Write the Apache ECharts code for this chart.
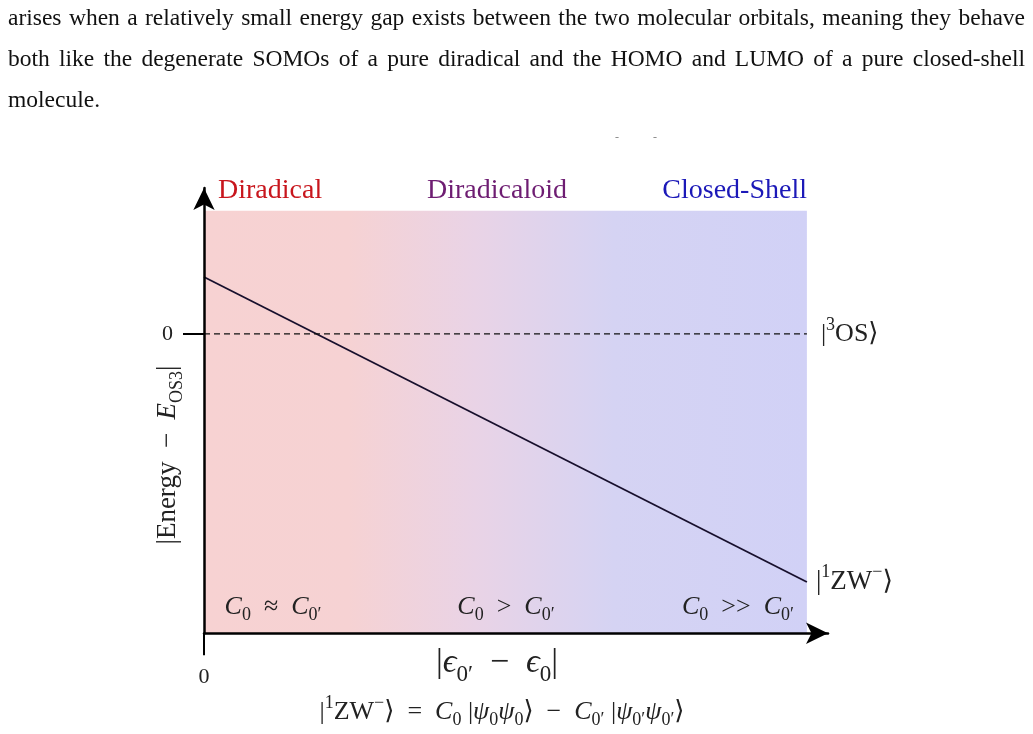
<!DOCTYPE html>
<html>
<head>
<meta charset="utf-8">
<script src="https://cdn.jsdelivr.net/npm/echarts@6/dist/echarts.min.js"></script>
<style>
  html, body { margin: 0; padding: 0; background: #fff; }
  #wrap { position: relative; width: 1033px; height: 734px; overflow: hidden; }
  #chart { position: absolute; left: 0; top: 0; width: 1033px; height: 734px; }
  #para { position: absolute; left: 8px; top: -3px; width: 1017px; font-family: 'Liberation Serif', 'Times New Roman', serif;
          font-size: 23.5px; line-height: 41px; color: #111; z-index: 2; pointer-events: none; }
  #para div { white-space: nowrap; }
  #para .j { text-align: justify; text-align-last: justify; white-space: normal; }
</style>
</head>
<body>
<div id="wrap">
  <div id="chart"></div>
  <div id="para">
    <div class="j">arises when a relatively small energy gap exists between the two molecular orbitals, meaning they behave</div>
    <div class="j">both like the degenerate SOMOs of a pure diradical and the HOMO and LUMO of a pure closed-shell</div>
    <div>molecule.</div>
  </div>
</div>
<script>
// ---- data ----
const regionNames = ['Diradical', 'Diradicaloid', 'Closed-Shell'];
const regionColors = ['#c8161d', '#6e1d72', '#1c19b8'];
const regimeLabels = ['{it|C}{sub|0}{n|  ≈  }{it|C}{sub|0′}', '{it|C}{sub|0}{n|  >  }{it|C}{sub|0′}', '{it|C}{sub|0}{n|  >>  }{it|C}{sub|0′}'];
const gapValues = [0, 10];            // |eps0' - eps0| (arbitrary units)
const singletEnergy = [1.0, -4.35];   // |1ZW-> energy relative to E_OS3
const tripletEnergy = [0, 0];         // |3OS> reference
const xTickValues = [0];
const yTickValues = [0];
const shadeTop = 2.16;
const xMax = 10.35, yMin = -5.25, yMax = 2.56;

const serif = "'Liberation Serif', 'DejaVu Serif', serif";
function richFor(size) {
  const sub = Math.round(size * 0.68);
  const lh = Math.round(size * 1.36);
  const slh = Math.round(size * 0.9);
  return {
    n:   { fontFamily: serif, fontSize: size, lineHeight: lh, color: '#222' },
    it:  { fontFamily: serif, fontSize: size, lineHeight: lh, fontStyle: 'italic', color: '#222' },
    sub: { fontFamily: serif, fontSize: sub, lineHeight: slh, verticalAlign: 'bottom', color: '#222' },
    sup: { fontFamily: serif, fontSize: sub, lineHeight: slh, verticalAlign: 'top', color: '#222' }
  };
}
function richText(x, y, text, size, rotation) {
  return {
    type: 'text', x: x, y: y, z: 20, rotation: rotation || 0,
    style: { text: text, rich: richFor(size), fontFamily: serif, fontSize: size, lineHeight: Math.round(size * 1.36),
             fill: '#222', textAlign: 'center', textVerticalAlign: 'middle' }
  };
}

const chart = echarts.init(document.getElementById('chart'), null, { renderer: 'canvas' });

const gradient = new echarts.graphic.LinearGradient(0, 0, 1, 0, [
  { offset: 0, color: '#f7d2d2' },
  { offset: 0.24, color: '#f6d2d3' },
  { offset: 0.45, color: '#e9d3e6' },
  { offset: 0.68, color: '#d5d3f3' },
  { offset: 1, color: '#d1d1f6' }
]);

const regionX = [218, 427, 807];
const regionAlign = ['left', 'left', 'right'];
const regimeX = [273, 506, 738];

const graphics = [];
regionNames.forEach((name, i) => {
  graphics.push({
    type: 'text', x: regionX[i], y: 191, z: 20,
    style: { text: name, fill: regionColors[i], font: "28px " + serif, textAlign: regionAlign[i], textVerticalAlign: 'middle' }
  });
});
regimeLabels.forEach((t, i) => graphics.push(richText(regimeX[i], 607, t, 26)));
// y axis title (rotated)
graphics.push(richText(168, 455, '{n||Energy  −  }{it|E}{sub|OS3}{n||}', 27, Math.PI / 2));
// x axis title
graphics.push(richText(497, 663, '{n||}{it|ϵ}{sub|0′}{n|  −  }{it|ϵ}{sub|0}{n||}', 34));
// wavefunction formula
graphics.push(richText(502, 712, '{n||}{sup|1}{n|ZW}{sup|−}{n|⟩  =  }{it|C}{sub|0}{n| |}{it|ψ}{sub|0}{it|ψ}{sub|0}{n|⟩  −  }{it|C}{sub|0′}{n| |}{it|ψ}{sub|0′}{it|ψ}{sub|0′}{n|⟩}', 26));
// stray marks near the top
graphics.push({ type: 'text', x: 617, y: 138, z: 20, style: { text: '-', fill: '#888', font: '12px ' + serif, textAlign: 'center', textVerticalAlign: 'middle' } });
graphics.push({ type: 'text', x: 655, y: 138, z: 20, style: { text: '-', fill: '#888', font: '12px ' + serif, textAlign: 'center', textVerticalAlign: 'middle' } });

chart.setOption({
  animation: false,
  backgroundColor: 'transparent',
  grid: { left: 204, right: 1033 - 828, top: 188, bottom: 734 - 633.25, containLabel: false },
  xAxis: {
    type: 'value', min: 0, max: xMax, z: 10,
    axisLine: { show: true, lineStyle: { color: '#000', width: 2.5 }, symbol: ['none', 'arrow'], symbolSize: [16, 22], onZero: false },
    axisTick: { show: true, customValues: xTickValues, length: 22, lineStyle: { color: '#000', width: 2 } },
    axisLabel: { show: true, customValues: xTickValues, margin: 33, fontFamily: serif, fontSize: 22, color: '#222' },
    splitLine: { show: false }
  },
  yAxis: {
    type: 'value', min: yMin, max: yMax, z: 10,
    axisLine: { show: true, lineStyle: { color: '#000', width: 2.5 }, symbol: ['none', 'arrow'], symbolSize: [16, 22], onZero: false },
    axisTick: { show: true, customValues: yTickValues, length: 21, lineStyle: { color: '#000', width: 2 } },
    axisLabel: { show: true, customValues: yTickValues, margin: 31, fontFamily: serif, fontSize: 22, color: '#222' },
    splitLine: { show: false }
  },
  series: [
    {
      name: 'singlet', type: 'line', symbol: 'none', z: 5,
      data: gapValues.map((x, i) => [x, singletEnergy[i]]),
      lineStyle: { color: '#170f2c', width: 1.8 },
      endLabel: { show: true, distance: 9, formatter: '{n||}{sup|1}{n|ZW}{sup|−}{n|⟩}', rich: richFor(27), fontFamily: serif, fontSize: 27, color: '#222' },
      markArea: {
        silent: true,
        itemStyle: { color: gradient, borderWidth: 0 },
        data: [[{ coord: [gapValues[0], yMin] }, { coord: [gapValues[1], shadeTop] }]]
      }
    },
    {
      name: 'triplet', type: 'line', symbol: 'none', z: 5,
      data: gapValues.map((x, i) => [x, tripletEnergy[i]]),
      lineStyle: { color: '#111', width: 1.3, type: [6, 4] },
      endLabel: { show: true, distance: 14, formatter: '{n||}{sup|3}{n|OS⟩}', rich: richFor(26), fontFamily: serif, fontSize: 26, color: '#222' }
    }
  ],
  graphic: graphics
});
</script>
</body>
</html>
